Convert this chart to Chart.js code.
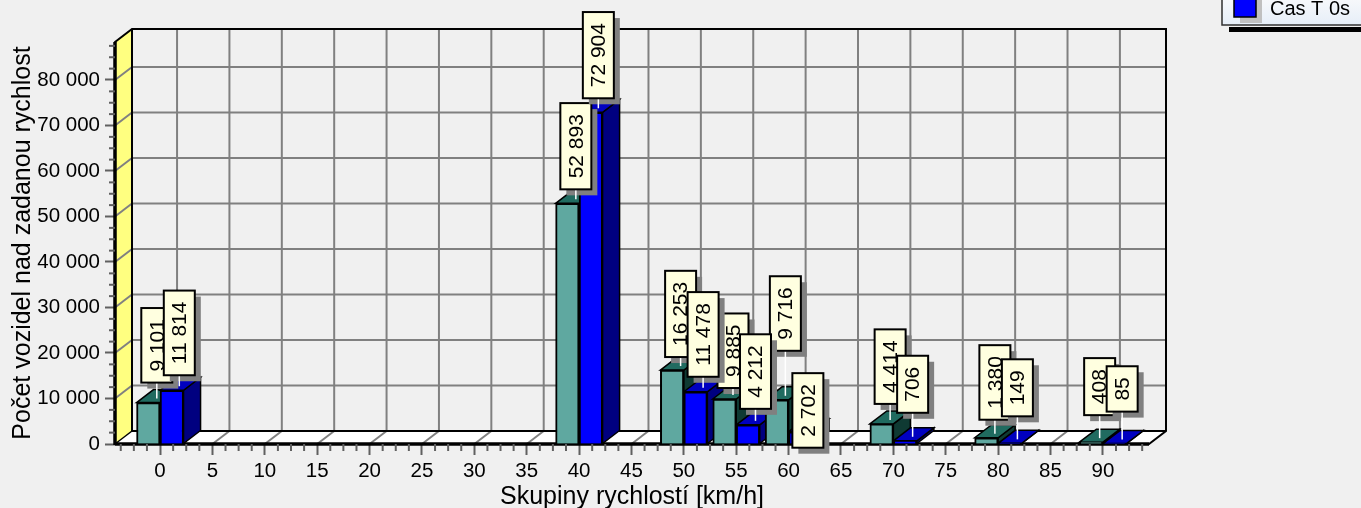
<!DOCTYPE html>
<html>
<head>
<meta charset="utf-8">
<title>Skupiny rychlostí</title>
<script src="https://cdn.jsdelivr.net/npm/chart.js@4"></script>
<style>
  html, body { margin: 0; padding: 0; background: #f0f0f0; overflow: hidden; }
  canvas { display: block; }
</style>
</head>
<body>
<canvas id="myChart" width="1361" height="508"></canvas>
<script>
var speedGroups = [0, 40, 50, 55, 60, 70, 80, 90];
var valuesAll = [9101, 52893, 16253, 9885, 9716, 4414, 1380, 408];
var valuesT0 = [11814, 72904, 11478, 4212, 2702, 706, 149, 85];
var seriesNames = ["", "Cas T 0s"];
var yTicks = [0, 10000, 20000, 30000, 40000, 50000, 60000, 70000, 80000];

// how far each value mark sits above its bar (the marks were placed by hand in the original)
var liftAll = [20, 14, 13, 11, 49, 20, 18, 27];
var liftT0 = [15, 14, 15, 16, -16, 28, 27, 32];
var markShift = [8.5, 7.5];

var depthX = 17;
var depthY = 13;
var font = "Liberation Sans, Arial, sans-serif";

var tealColors = { front: "#5fa8a0", top: "#206b60", side: "#0f3a33" };
var blueColors = { front: "#0000ff", top: "#0000c0", side: "#000080" };

function spaced(v) {
  return String(v).replace(/\B(?=(\d{3})+$)/g, " ");
}

function poly(c, pts, fill, stroke, lw) {
  c.beginPath();
  c.moveTo(pts[0][0], pts[0][1]);
  for (let i = 1; i < pts.length; i++) c.lineTo(pts[i][0], pts[i][1]);
  c.closePath();
  if (fill) { c.fillStyle = fill; c.fill(); }
  if (stroke) { c.strokeStyle = stroke; c.lineWidth = lw || 1; c.stroke(); }
}

function line(c, x1, y1, x2, y2, color, lw) {
  c.beginPath();
  c.moveTo(x1, y1);
  c.lineTo(x2, y2);
  c.strokeStyle = color;
  c.lineWidth = lw;
  c.stroke();
}

// ------------- WALLS, FLOOR, BACK GRID, MINOR TICKS ------//
function drawWalls(chart) {
  let c = chart.ctx;
  let a = chart.chartArea;
  let xs = chart.scales.x;
  let ys = chart.scales.y;
  c.save();

  poly(c, [[a.left, a.top], [a.left + depthX, a.top - depthY], [a.left + depthX, a.bottom - depthY], [a.left, a.bottom]], "#ffff80");
  poly(c, [[a.left, a.bottom], [a.left + depthX, a.bottom - depthY], [a.right + depthX, a.bottom - depthY], [a.right, a.bottom]], "#ffffff");

  ys.ticks.forEach((t) => {
    let y = ys.getPixelForValue(t.value);
    if (t.value == 0) return;
    line(c, a.left, y, a.left + depthX, y - depthY, "#808080", 2);
    line(c, a.left + depthX, y - depthY, a.right + depthX, y - depthY, "#808080", 2);
  });
  xs.ticks.forEach((t) => {
    let x = xs.getPixelForValue(t.value);
    line(c, x, a.bottom, x + depthX, a.bottom - depthY, "#808080", 2);
    line(c, x + depthX, a.bottom - depthY, x + depthX, a.top - depthY, "#808080", 2);
  });

  // outline of the box
  poly(c, [[a.left, a.top], [a.left + depthX, a.top - depthY], [a.right + depthX, a.top - depthY], [a.right + depthX, a.bottom - depthY], [a.right, a.bottom], [a.left, a.bottom]], null, "#000000", 2);
  line(c, a.left + depthX, a.top - depthY, a.left + depthX, a.bottom - depthY, "#000000", 2);
  line(c, a.left, a.bottom, a.left + depthX, a.bottom - depthY, "#000000", 1.5);
  line(c, a.left + depthX, a.bottom - depthY, a.right + depthX, a.bottom - depthY, "#000000", 2);
  line(c, a.left, a.top, a.left, a.bottom + 1, "#000000", 3.5);
  line(c, a.left, a.bottom, a.right, a.bottom, "#000000", 3.5);

  // minor ticks, 3 between each labelled tick
  for (let v = 2500; v < ys.max; v += 2500) {
    if (v % 10000 == 0) continue;
    let y = ys.getPixelForValue(v);
    line(c, a.left - 6, y, a.left, y, "#606060", 2);
  }
  for (let v = -3.75; v < xs.max; v += 1.25) {
    if (v % 5 == 0) continue;
    let x = xs.getPixelForValue(v);
    line(c, x, a.bottom, x, a.bottom + 7, "#606060", 2);
  }
  c.restore();
}

// ------------- TOP AND SIDE OF EACH BAR ------//
function drawDepth(chart) {
  let c = chart.ctx;
  c.save();
  for (let i = 0; i < speedGroups.length; i++) {
    [0, 1].forEach((s) => {
      let bar = chart.getDatasetMeta(s).data[i];
      let colors = s == 0 ? tealColors : blueColors;
      let l = bar.x - bar.width / 2;
      let r = bar.x + bar.width / 2;
      poly(c, [[r, bar.y], [r + depthX, bar.y - depthY], [r + depthX, bar.base - depthY], [r, bar.base]], colors.side, "#000000", 1.5);
      poly(c, [[l, bar.y], [l + depthX, bar.y - depthY], [r + depthX, bar.y - depthY], [r, bar.y]], colors.top, "#000000", 1.5);
    });
  }
  c.restore();
}

// ------------- VALUE MARKS ------//
function drawMarks(chart) {
  let c = chart.ctx;
  let lifts = [liftAll, liftT0];
  c.save();
  c.font = "21px " + font;
  [0, 1].forEach((s) => {
    chart.getDatasetMeta(s).data.forEach((bar, i) => {
      let value = chart.data.datasets[s].data[i].y;
      let txt = spaced(value);
      let h = c.measureText(txt).width + 22;
      let w = 31;
      let cx = bar.x + markShift[s];
      let bottom = bar.y - lifts[s][i];
      c.fillStyle = "#808080";
      c.fillRect(cx - w / 2 + 6, bottom - h + 6, w, h);
      line(c, cx, bottom, cx, bar.y - 4, "#ffffff", 1.5);
      c.fillStyle = "#ffffe0";
      c.fillRect(cx - w / 2, bottom - h, w, h);
      c.strokeStyle = "#000000";
      c.lineWidth = 2;
      c.strokeRect(cx - w / 2, bottom - h, w, h);
      c.save();
      c.translate(cx, bottom - h / 2);
      c.rotate(-Math.PI / 2);
      c.fillStyle = "#000000";
      c.textAlign = "center";
      c.textBaseline = "middle";
      c.fillText(txt, 0, 1);
      c.restore();
    });
  });
  c.restore();
}

// ------------- LEGEND, CUT OFF BY THE TOP OF THE PICTURE ------//
function drawLegend(chart) {
  let c = chart.ctx;
  c.save();
  c.fillStyle = "#000000";
  c.fillRect(1229, 27, 132, 5);
  let g = c.createLinearGradient(0, 0, 0, 25);
  g.addColorStop(0, "#f6f8fb");
  g.addColorStop(1, "#e6eef8");
  c.fillStyle = g;
  c.fillRect(1222, -5, 145, 30);
  c.strokeStyle = "#303030";
  c.lineWidth = 1.5;
  c.strokeRect(1222, -5, 145, 30);
  c.fillStyle = "#c0c0c0";
  c.fillRect(1240, 0, 22, 23);
  c.fillStyle = blueColors.front;
  c.fillRect(1234, -5, 22, 22);
  c.strokeStyle = "#000000";
  c.strokeRect(1234, -5, 22, 22);
  c.fillStyle = "#000000";
  c.font = "20px " + font;
  c.textBaseline = "alphabetic";
  c.fillText(seriesNames[1], 1270, 15);
  c.restore();
}

var box3d = {
  id: "box3d",
  beforeDatasetsDraw(chart) {
    drawWalls(chart);
    drawDepth(chart);
  },
  afterDatasetsDraw(chart) {
    drawMarks(chart);
    drawLegend(chart);
  }
};

function points(values) {
  return speedGroups.map((g, i) => ({ x: g, y: values[i] }));
}

var ctx = document.getElementById("myChart").getContext("2d");

var myChart = new Chart(ctx, {
  type: "bar",
  plugins: [box3d],
  data: {
    datasets: [{
        label: seriesNames[0],
        data: points(valuesAll),
        backgroundColor: tealColors.front,
        borderColor: "#000000",
        borderWidth: 2,
        barThickness: 23.5
      },
      {
        label: seriesNames[1],
        data: points(valuesT0),
        backgroundColor: blueColors.front,
        borderColor: "#000000",
        borderWidth: 2,
        barThickness: 23.5
      }
    ]
  },
  options: {
    responsive: false,
    animation: false,
    layout: {
      padding: { top: 42, right: 212, left: 0, bottom: 0 }
    },
    plugins: {
      legend: { display: false },
      tooltip: { enabled: false }
    },
    scales: {
      x: {
        type: "linear",
        offset: false,
        min: -4.3,
        max: 94.4,
        afterFit(scale) { scale.height = 64; },
        grid: {
          offset: false,
          drawOnChartArea: false,
          drawTicks: true,
          tickLength: 11,
          tickWidth: 2,
          tickColor: "#606060"
        },
        border: { display: false },
        ticks: {
          stepSize: 5,
          includeBounds: false,
          autoSkip: false,
          maxRotation: 0,
          padding: 4,
          color: "#000000",
          font: { family: font, size: 20.5 }
        },
        title: {
          display: true,
          text: "Skupiny rychlostí [km/h]",
          color: "#000000",
          padding: { top: 0, bottom: -4 },
          font: { family: font, size: 25 }
        }
      },
      y: {
        min: 0,
        max: 88350,
        afterFit(scale) { scale.width = 115; },
        afterBuildTicks(scale) { scale.ticks = yTicks.map((v) => ({ value: v })); },
        grid: {
          drawOnChartArea: false,
          tickLength: 10,
          tickWidth: 2,
          tickColor: "#606060"
        },
        border: { display: false },
        ticks: {
          autoSkip: false,
          padding: 5,
          color: "#000000",
          font: { family: font, size: 20.5 },
          callback: (v) => spaced(v)
        },
        title: {
          display: true,
          text: "Počet vozidel nad zadanou rychlost",
          color: "#000000",
          padding: { top: 8, bottom: 0 },
          font: { family: font, size: 25 }
        }
      }
    }
  }
});
</script>
</body>
</html>
